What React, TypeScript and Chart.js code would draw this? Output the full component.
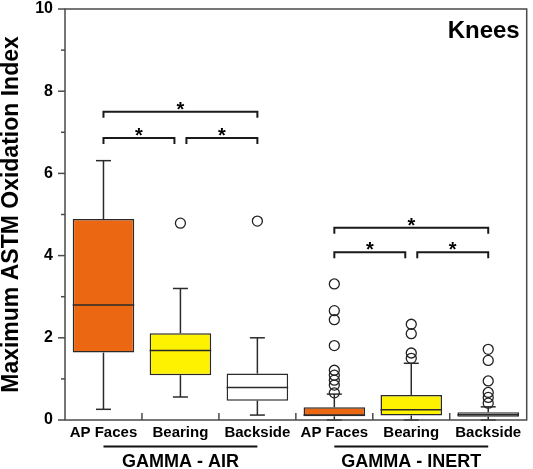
import React, { useEffect, useRef } from 'react';
import { Chart, registerables } from 'chart.js';

Chart.register(...registerables);

// ---- data ----
const categories = ['AP Faces', 'Bearing', 'Backside', 'AP Faces', 'Bearing', 'Backside'];
const groupLabels = ['GAMMA - AIR', 'GAMMA - INERT'];
const groupFirst = [0, 3];
const groupLast = [2, 5];

const q1 = [1.64, 1.09, 0.47, 0.09, 0.11, 0.08];
const q3 = [4.89, 2.11, 1.13, 0.31, 0.61, 0.19];
const medians = [2.8, 1.69, 0.79, 0.12, 0.25, 0.13];
const whiskerLow = [0.26, 0.56, 0.12, 0, 0, 0];
const whiskerHigh = [6.31, 3.2, 2.0, 0.63, 1.38, 0.32];

const outliers0: number[] = [];
const outliers1 = [4.79];
const outliers2 = [4.84];
const outliers3 = [3.31, 2.66, 2.44, 1.81, 1.21, 1.09, 0.97, 0.85, 0.66];
const outliers4 = [2.33, 2.1, 1.63, 1.5];
const outliers5 = [1.72, 1.45, 0.95, 0.67, 0.55, 0.41];
const outlierSets = [outliers0, outliers1, outliers2, outliers3, outliers4, outliers5];

const boxColors = ['#EC6712', '#FFF200', '#FFFFFF', '#EC6712', '#FFF200', '#FFFFFF'];

// significance brackets: category from/to, level, and whether an end stops short of the centre
const bracketFrom = [0, 0, 1, 3, 3, 4];
const bracketTo = [2, 1, 2, 5, 4, 5];
const bracketLevel = [7.5, 6.86, 6.86, 4.68, 4.08, 4.08];
const bracketShortStart = [false, false, true, false, false, true];
const bracketShortEnd = [false, true, false, false, true, false];

const yTickValues = [0, 2, 4, 6, 8, 10];
const yMinorValues = [1, 3, 5, 7, 9];

const FONT = "'Liberation Sans', Arial, Helvetica, sans-serif";

const extrasPlugin = {
  id: 'boxExtras',
  afterDatasetsDraw(chart: any) {
    const { ctx, scales } = chart;
    const x = scales.x;
    const y = scales.y;
    const meta = chart.getDatasetMeta(0);
    ctx.save();
    ctx.strokeStyle = '#2a2a2a';
    ctx.lineWidth = 1.5;
    const line = (x1: number, y1: number, x2: number, y2: number) => {
      ctx.beginPath();
      ctx.moveTo(x1, y1);
      ctx.lineTo(x2, y2);
      ctx.stroke();
    };
    categories.forEach((_, i) => {
      const cx = x.getPixelForValue(i);
      const yq1 = y.getPixelForValue(q1[i]);
      const yq3 = y.getPixelForValue(q3[i]);
      const yhi = y.getPixelForValue(whiskerHigh[i]);
      const ylo = y.getPixelForValue(whiskerLow[i]);
      const ymed = y.getPixelForValue(medians[i]);
      line(cx, yq3, cx, yhi);
      line(cx - 7.5, yhi, cx + 7.5, yhi);
      line(cx, yq1, cx, ylo);
      line(cx - 7.5, ylo, cx + 7.5, ylo);
      const bar = meta.data[i];
      const half = bar.width / 2;
      line(cx - half, ymed, cx + half, ymed);
    });
    ctx.restore();
  },
  afterDraw(chart: any) {
    const { ctx, chartArea, scales } = chart;
    const x = scales.x;
    const y = scales.y;
    const { left, right, top, bottom } = chartArea;
    ctx.save();
    const line = (x1: number, y1: number, x2: number, y2: number) => {
      ctx.beginPath();
      ctx.moveTo(x1, y1);
      ctx.lineTo(x2, y2);
      ctx.stroke();
    };
    // frame
    ctx.strokeStyle = '#4a4a4a';
    ctx.lineWidth = 1.5;
    ctx.strokeRect(left, top, right - left, bottom - top);
    // x ticks (inside, at category boundaries)
    for (let k = 1; k < categories.length; k++) {
      const px = x.getPixelForValue(k - 0.5);
      line(px, bottom, px, bottom - 7);
    }
    // y ticks
    yTickValues.forEach((v) => {
      const py = y.getPixelForValue(v);
      line(left - 7, py, left, py);
    });
    yMinorValues.forEach((v) => {
      const py = y.getPixelForValue(v);
      line(left - 4, py, left, py);
    });

    // brackets
    ctx.strokeStyle = '#1a1a1a';
    ctx.lineWidth = 2;
    ctx.fillStyle = '#000';
    ctx.font = `bold 20px ${FONT}`;
    ctx.textAlign = 'center';
    ctx.textBaseline = 'alphabetic';
    bracketFrom.forEach((f, i) => {
      let x1 = x.getPixelForValue(f);
      let x2 = x.getPixelForValue(bracketTo[i]);
      if (bracketShortStart[i]) x1 += 6;
      if (bracketShortEnd[i]) x2 -= 6;
      const by = y.getPixelForValue(bracketLevel[i]);
      ctx.beginPath();
      ctx.moveTo(x1, by + 6);
      ctx.lineTo(x1, by);
      ctx.lineTo(x2, by);
      ctx.lineTo(x2, by + 6);
      ctx.stroke();
      ctx.fillText('*', (x1 + x2) / 2, by + 4);
    });

    // group labels
    ctx.strokeStyle = '#111';
    ctx.lineWidth = 2;
    ctx.font = `bold 18px ${FONT}`;
    ctx.textBaseline = 'middle';
    groupLabels.forEach((g, i) => {
      const x1 = x.getPixelForValue(groupFirst[i]);
      const x2 = x.getPixelForValue(groupLast[i]);
      line(x1, 446.5, x2, 446.5);
      ctx.fillText(g, (x1 + x2) / 2, 462);
    });

    // panel label
    ctx.font = `bold 24px ${FONT}`;
    ctx.textAlign = 'right';
    ctx.textBaseline = 'alphabetic';
    ctx.fillText('Knees', right - 7, top + 29);
    ctx.restore();
  },
};

export default function App() {
  const canvasRef = useRef<HTMLCanvasElement | null>(null);

  useEffect(() => {
    const canvas = canvasRef.current;
    if (!canvas) return;
    const outlierPoints: { x: number; y: number }[] = [];
    outlierSets.forEach((set, i) => set.forEach((v) => outlierPoints.push({ x: i, y: v })));
    const boxPoints = q1.map((v, i) => ({ x: i, y: [v, q3[i]] }));

    const chart = new Chart(canvas, {
      type: 'bar',
      data: {
        datasets: [
          {
            type: 'bar',
            data: boxPoints as any,
            backgroundColor: boxColors,
            borderColor: '#2a2a2a',
            borderWidth: 1.5,
            borderSkipped: false,
            grouped: false,
            barPercentage: 0.8,
            categoryPercentage: 1,
          } as any,
          {
            type: 'scatter',
            data: outlierPoints,
            pointRadius: 5,
            pointBorderWidth: 1.3,
            pointBorderColor: '#222',
            pointBackgroundColor: 'rgba(0,0,0,0)',
            showLine: false,
          } as any,
        ],
      },
      options: {
        responsive: false,
        animation: false,
        devicePixelRatio: 1,
        layout: { padding: { top: 0, right: 3, left: 0, bottom: 0 } },
        plugins: { legend: { display: false }, tooltip: { enabled: false }, title: { display: false } },
        scales: {
          x: {
            type: 'linear',
            offset: false,
            min: -0.5,
            max: categories.length - 0.5,
            grid: { display: false, drawTicks: false },
            border: { display: false },
            afterBuildTicks: (s: any) => {
              s.ticks = categories.map((_, i) => ({ value: i }));
            },
            ticks: {
              color: '#000',
              padding: 4,
              maxRotation: 0,
              autoSkip: false,
              callback: (v: any) => categories[Math.round(Number(v))] ?? '',
              font: { family: FONT, size: 15, weight: 'bold', lineHeight: 1.2 },
            },
            afterFit: (s: any) => {
              s.height = 49;
              s.paddingLeft = 0;
              s.paddingRight = 0;
            },
          },
          y: {
            type: 'linear',
            min: 0,
            max: 10,
            grid: { display: false, drawTicks: false },
            border: { display: false },
            ticks: {
              stepSize: 2,
              color: '#000',
              padding: 12,
              font: { family: FONT, size: 16, weight: 'bold', lineHeight: 1 },
            },
            title: {
              display: true,
              text: 'Maximum ASTM Oxidation Index',
              color: '#000',
              padding: 0,
              font: { family: FONT, size: 23, weight: 'bold', lineHeight: 1 },
            },
            afterFit: (s: any) => {
              s.width = 65;
              s.paddingTop = 9;
              s.paddingBottom = 0;
            },
          },
        },
      } as any,
      plugins: [extrasPlugin],
    });
    return () => chart.destroy();
  }, []);

  return (
    <div style={{ position: 'absolute', left: 0, top: 0, width: 533, height: 469, background: '#fff' }}>
      <canvas ref={canvasRef} width={533} height={469} style={{ display: 'block' }} />
    </div>
  );
}
